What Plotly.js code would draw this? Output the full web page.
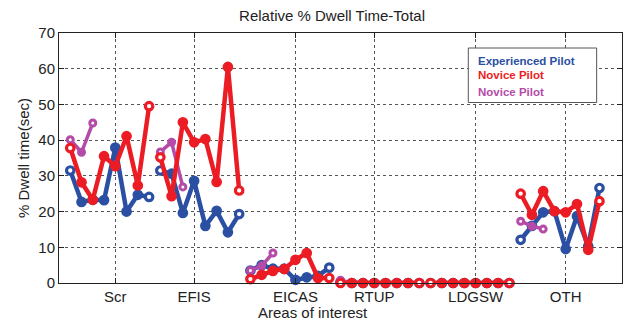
<!DOCTYPE html>
<html>
<head>
<meta charset="utf-8">
<script src="https://cdn.plot.ly/plotly-3.0.1.min.js"></script>
<style>html,body{margin:0;padding:0;background:#fff;}#chart{width:627px;height:324px;}</style>
</head>
<body>
<div id="chart"></div>
<script>
// Areas of interest (x-axis categories) and where their labels sit on the index axis
var categories = ['Scr', 'EFIS', 'EICAS', 'RTUP', 'LDGSW', 'OTH'];
var categoryTickIndex = [5, 12, 21, 28, 37, 45];
var pointsPerGroup = 8;
var novice2PerGroup = 3;

// Relative % dwell time, 8 subjects per area of interest
var experienced = [31.5, 22.7, 23.3, 23.2, 37.9, 20.0, 24.7, 24.1,
                   31.5, 30.6, 19.6, 28.6, 16.0, 20.2, 14.2, 19.3,
                   3.5, 5.0, 4.0, 4.0, 0.9, 1.6, 2.0, 4.3,
                   0.3, 0, 0, 0, 0, 0, 0, 0,
                   0, 0, 0, 0, 0, 0, 0, 0,
                   12.1, 16.0, 19.8, 20.1, 9.5, 18.7, 10.3, 26.6];
var novice = [37.8, 28.2, 23.3, 35.5, 32.7, 41.1, 27.3, 49.5,
              35.2, 24.3, 45.0, 39.4, 40.3, 28.3, 60.5, 25.9,
              1.1, 2.3, 3.4, 3.9, 6.5, 8.4, 1.4, 1.4,
              0, 0, 0, 0, 0, 0, 0, 0,
              0, 0, 0, 0, 0, 0, 0, 0,
              25.0, 19.1, 25.7, 20.1, 19.8, 22.1, 9.3, 22.9];
var novice2 = [40.1, 36.6, 44.8,
               36.7, 39.4, 26.9,
               3.5, 4.8, 8.4,
               0.8, 0, 0,
               0, 0, 0,
               17.3, 15.9, 15.1];

var seriesNames = ['Experienced Pilot', 'Novice Pilot', 'Novice Pilot'];
var colors = ['#2B4FA2', '#EC1C24', '#B54BA9'];

function groupTraces(values, perGroup, color, lineW, msize, mline, name) {
  var traces = [];
  for (var g = 0; g < categories.length; g++) {
    var xs = [], ys = [], fills = [];
    for (var k = 0; k < perGroup; k++) {
      xs.push(g * pointsPerGroup + k + 1);
      ys.push(values[g * perGroup + k]);
      fills.push((k === 0 || k === perGroup - 1) ? '#ffffff' : color);
    }
    traces.push({
      type: 'scatter', mode: 'lines+markers', x: xs, y: ys, name: name,
      showlegend: false, hoverinfo: 'skip', cliponaxis: false,
      line: {color: color, width: lineW},
      marker: {symbol: 'circle', size: msize, color: fills, line: {color: color, width: mline}}
    });
  }
  return traces;
}

var data = [].concat(
  groupTraces(experienced, pointsPerGroup, colors[0], 4.5, 7.5, 3.2, seriesNames[0]),
  groupTraces(novice2, novice2PerGroup, colors[2], 3.5, 6, 3, seriesNames[2]),
  groupTraces(novice, pointsPerGroup, colors[1], 4.5, 7.5, 3.2, seriesNames[1])
);

var fam = 'Liberation Sans, Arial, sans-serif';
var txt = '#222';

var layout = {
  width: 627, height: 324,
  margin: {l: 59, r: 5, t: 33, b: 41},
  paper_bgcolor: '#fff', plot_bgcolor: '#fff',
  font: {family: fam, size: 15, color: txt},
  showlegend: false,
  title: {text: 'Relative % Dwell Time-Total', font: {family: fam, size: 15, color: txt},
          x: 0.485, xref: 'paper', xanchor: 'center', y: 0.952, yanchor: 'middle'},
  xaxis: {
    range: [0, 50], tickmode: 'array', tickvals: categoryTickIndex, ticktext: categories,
    showgrid: true, gridcolor: '#555', griddash: 'dot', gridwidth: 1,
    zeroline: false, showline: true, linecolor: '#222', linewidth: 1, mirror: 'ticks',
    ticks: 'inside', ticklen: 5, tickcolor: '#222',
    tickfont: {family: fam, size: 15, color: txt}
  },
  yaxis: {
    range: [0, 70], tickmode: 'array', tickvals: [0, 10, 20, 30, 40, 50, 60, 70],
    showgrid: true, gridcolor: '#555', griddash: 'dot', gridwidth: 1,
    zeroline: false, showline: true, linecolor: '#222', linewidth: 1, mirror: 'ticks',
    ticks: 'inside', ticklen: 5, tickcolor: '#222',
    tickfont: {family: fam, size: 15, color: txt},
    title: {text: '% Dwell time(sec)', font: {family: fam, size: 15, color: txt}, standoff: 5}
  },
  shapes: [{type: 'rect', xref: 'paper', yref: 'paper', x0: 0.727, x1: 0.955, y0: 0.722, y1: 0.94,
            line: {color: '#555', width: 1}, fillcolor: '#ffffff', layer: 'above'}],
  annotations: [
    {text: 'Areas of interest', x: 0.451, y: -0.118, xref: 'paper', yref: 'paper', xanchor: 'center', yanchor: 'middle', showarrow: false, font: {family: fam, size: 15, color: txt}},
    {text: '<b>' + seriesNames[0] + '</b>', x: 0.741, y: 0.89, xref: 'paper', yref: 'paper', xanchor: 'left', yanchor: 'middle', showarrow: false, font: {family: fam, size: 11.5, color: colors[0]}},
    {text: '<b>' + seriesNames[1] + '</b>', x: 0.741, y: 0.833, xref: 'paper', yref: 'paper', xanchor: 'left', yanchor: 'middle', showarrow: false, font: {family: fam, size: 11.5, color: colors[1]}},
    {text: '<b>' + seriesNames[2] + '</b>', x: 0.741, y: 0.766, xref: 'paper', yref: 'paper', xanchor: 'left', yanchor: 'middle', showarrow: false, font: {family: fam, size: 11.5, color: colors[2]}}
  ]
};

Plotly.newPlot('chart', data, layout, {displayModeBar: false, staticPlot: true});
</script>
</body>
</html>
